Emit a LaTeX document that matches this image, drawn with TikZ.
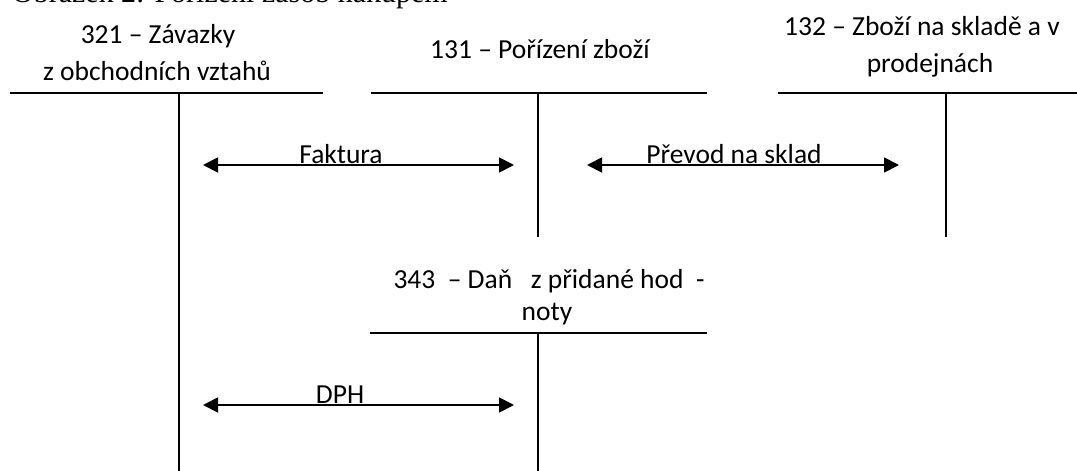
\documentclass[tikz,border=0pt]{standalone}
\usepackage{fontspec}
\setmainfont{Carlito}
\newfontfamily\capfont{Liberation Serif}
\usetikzlibrary{arrows.meta}
\begin{document}
\begin{tikzpicture}[x=1pt,y=-1pt,
  rule/.style={line width=1.8pt},
  posting/.style={line width=1.8pt,
    {Triangle[length=15pt,width=15pt]}-{Triangle[length=15pt,width=15pt]}},
  acctitle/.style={anchor=base,inner sep=0pt,font=\fontsize{27.5}{32}\selectfont},
  postlabel/.style={anchor=base,inner sep=0pt,font=\fontsize{27.5}{32}\selectfont}]
\useasboundingbox (0,0) rectangle (1077,471);
\clip (0,0) rectangle (1077,471);

% figure caption above the accounts
\node[anchor=base east,inner sep=0pt,font=\capfont\fontsize{30}{34}\selectfont]
  (caption) at (448,2) {Obrázek 2: Pořízení zásob nákupem};

% account 321
\coordinate (a321l) at (10,93);  \coordinate (a321r) at (323,93);
\coordinate (a321t) at (179,93); \coordinate (a321b) at (179,471);
\node[acctitle] (t321a) at (158,43) {321 – Závazky};
\node[acctitle] (t321b) at (157,80) {z obchodních vztahů};

% account 131
\coordinate (a131l) at (371,93); \coordinate (a131r) at (707,93);
\coordinate (a131t) at (538,93); \coordinate (a131b) at (538,237);
\node[acctitle] (t131) at (540,58) {131 – Pořízení zboží};

% account 132
\coordinate (a132l) at (778,93); \coordinate (a132r) at (1080,93);
\coordinate (a132t) at (946,93); \coordinate (a132b) at (946,237);
\node[acctitle] (t132a) at (922,35) {132 – Zboží na skladě a v};
\node[acctitle] (t132b) at (930,72) {prodejnách};

% account 343
\coordinate (a343l) at (370,333); \coordinate (a343r) at (707,333);
\coordinate (a343t) at (538,333); \coordinate (a343b) at (538,471);
\node[acctitle] (t343a) at (549,288) {343\ \ – Daň\ \ \ z přidané hod\ \ -};
\node[acctitle] (t343b) at (547,320) {noty};

\foreach \a in {321,131,132,343}{
  \draw[rule] (a\a l) -- (a\a r);
  \draw[rule] (a\a t) -- (a\a b);
}

% postings between the accounts
\coordinate (f1) at (203,165); \coordinate (f2) at (514,165);
\coordinate (p1) at (587,165); \coordinate (p2) at (899,165);
\coordinate (d1) at (203,405); \coordinate (d2) at (514,405);
\draw[posting] (f1) -- (f2);
\draw[posting] (p1) -- (p2);
\draw[posting] (d1) -- (d2);
\node[postlabel] (lfak) at (341,163) {Faktura};
\node[postlabel] (lpre) at (734,163) {Převod na sklad};
\node[postlabel] (ldph) at (340,403) {DPH};
\end{tikzpicture}
\end{document}
